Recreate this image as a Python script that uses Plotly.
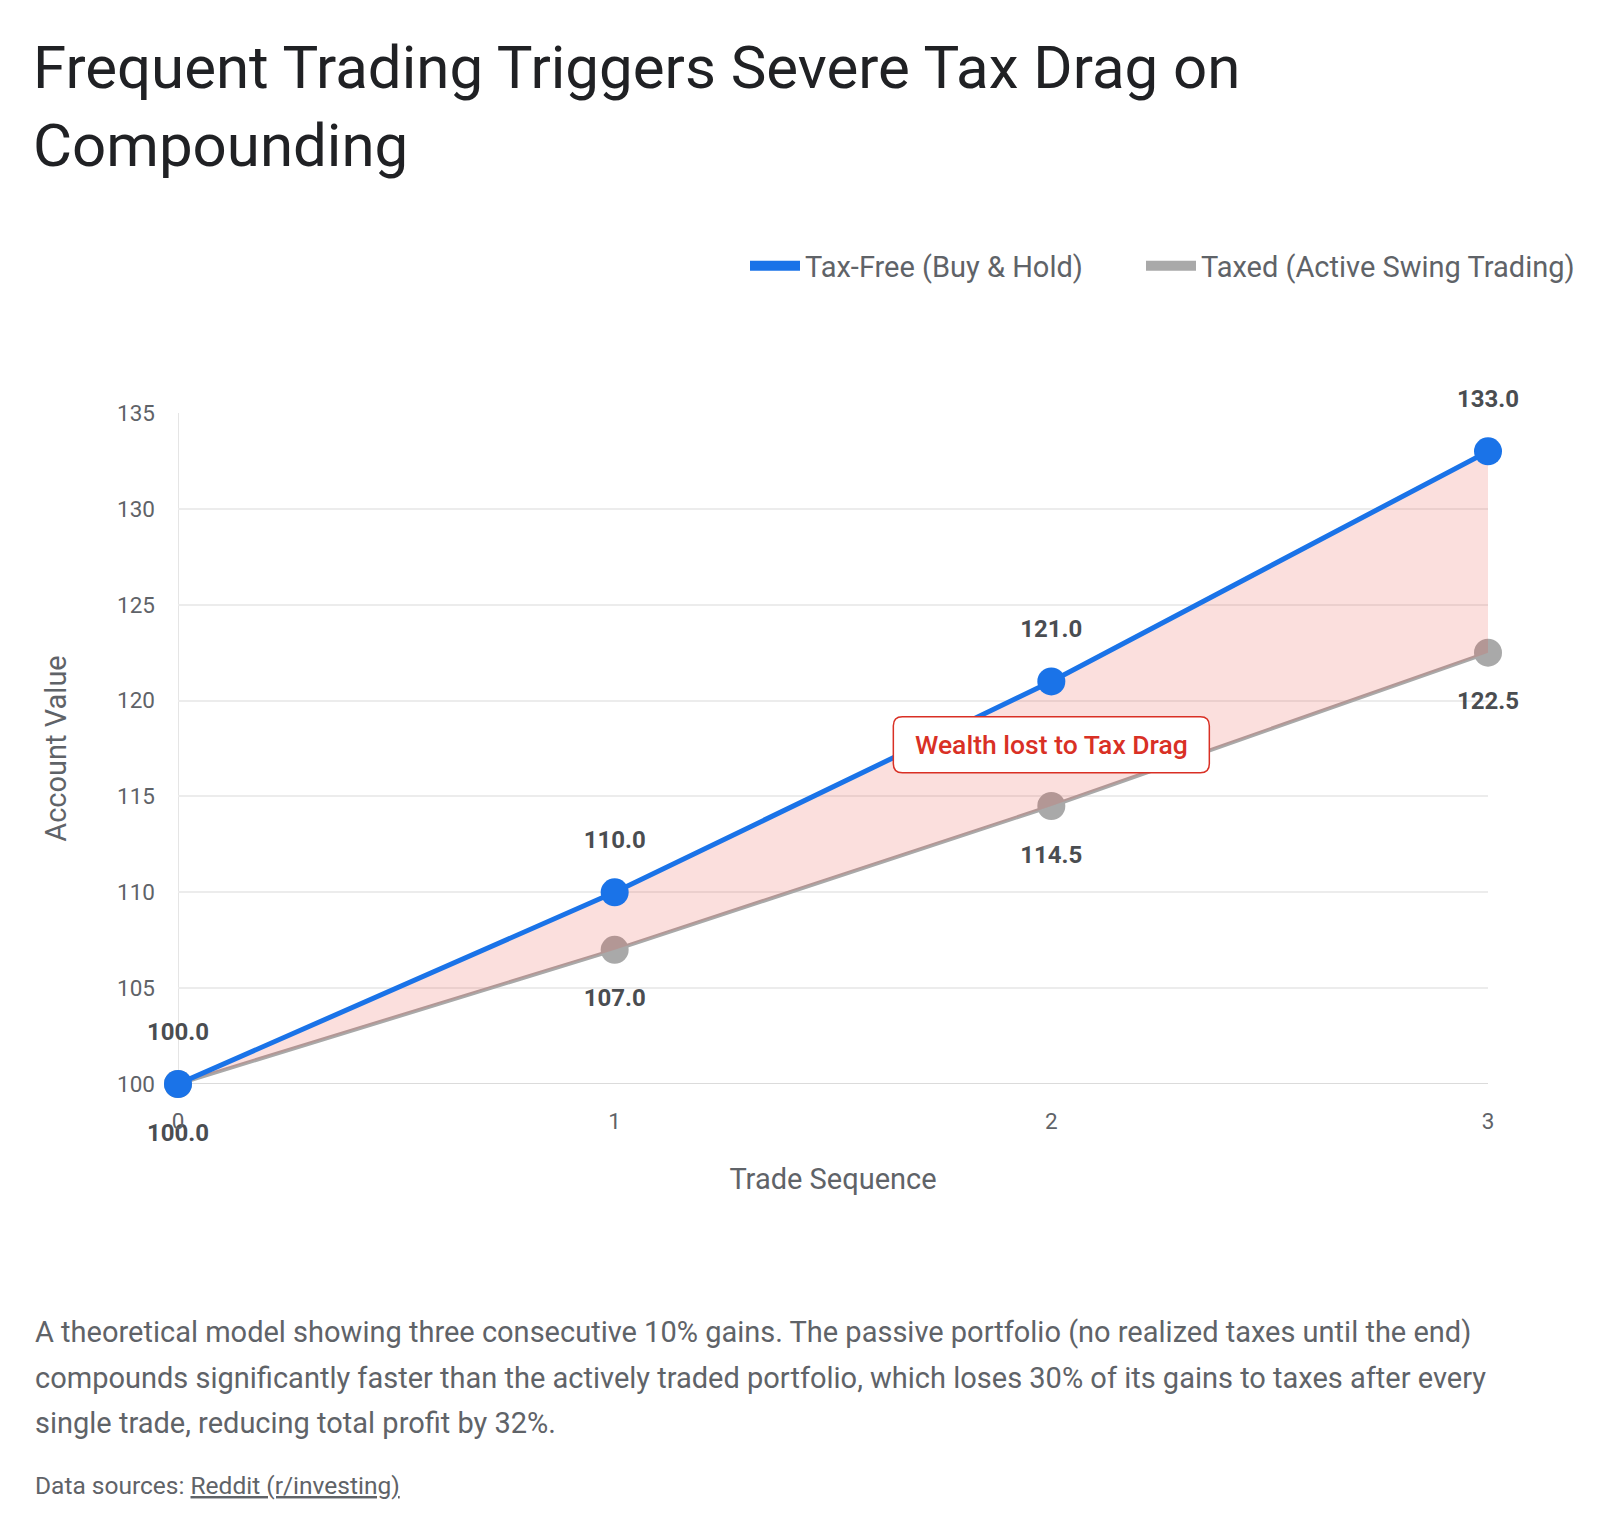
import plotly.graph_objects as go

trades = [0, 1, 2, 3]
tax_free = [100.0, 110.0, 121.0, 133.0]
taxed = [100.0, 107.0, 114.5, 122.5]
series_names = ["Tax-Free (Buy & Hold)", "Taxed (Active Swing Trading)"]
y_ticks = [100, 105, 110, 115, 120, 125, 130, 135]
note_text = "Wealth lost to Tax Drag"
note_x, note_y = 2.0, 117.7

BLUE = "#1a73e8"
GRAY = "#a9a9a9"
RED = "#d93025"
FONT = "Roboto"
LABEL = "#4a4d51"
FOOT = "#5f6368"

L, R, T, B = 178, 1488, 413, 1084
W = R - L
H = B - T
X0, X1 = 0, 3
Y0, Y1 = 100, 135

fig = go.Figure()

# taxed line (drawn first, below fill)
fig.add_trace(go.Scatter(
    x=trades, y=taxed, mode="lines+markers",
    line=dict(color=GRAY, width=4), marker=dict(color=GRAY, size=28),
    showlegend=False, hoverinfo="skip", cliponaxis=False))

# fill between
fig.add_trace(go.Scatter(
    x=trades + trades[::-1], y=tax_free + taxed[::-1],
    fill="toself", fillcolor="rgba(234,67,53,0.17)",
    line=dict(width=0), mode="lines", showlegend=False, hoverinfo="skip"))

# tax-free line
fig.add_trace(go.Scatter(
    x=trades, y=tax_free, mode="lines+markers",
    line=dict(color=BLUE, width=5), marker=dict(color=BLUE, size=28),
    showlegend=False, hoverinfo="skip", cliponaxis=False))

# value labels (transparent markers set the label offset)
fig.add_trace(go.Scatter(
    x=trades, y=taxed, mode="markers+text",
    marker=dict(color="rgba(0,0,0,0)", size=60),
    text=[f"{v:.1f}" for v in taxed], textposition="bottom center",
    textfont=dict(family=FONT, size=24, color=LABEL, weight="bold"),
    showlegend=False, hoverinfo="skip", cliponaxis=False))
fig.add_trace(go.Scatter(
    x=trades, y=tax_free, mode="markers+text",
    marker=dict(color="rgba(0,0,0,0)", size=60),
    text=[f"{v:.1f}" for v in tax_free], textposition="top center",
    textfont=dict(family=FONT, size=24, color=LABEL, weight="bold"),
    showlegend=False, hoverinfo="skip", cliponaxis=False))

# legend-only traces (one legend each, for exact placement)
fig.add_trace(go.Scatter(x=[None], y=[None], mode="lines", name=series_names[0],
                         line=dict(color=BLUE, width=10), legend="legend"))
fig.add_trace(go.Scatter(x=[None], y=[None], mode="lines", name=series_names[1],
                         line=dict(color=GRAY, width=10), legend="legend2"))


def px(x):
    return (x - L) / W


def py(y):
    return (B - y) / H


# rounded box around the note (pixel sizes converted to data units)
dx = (X1 - X0) / W
dy = (Y1 - Y0) / H
hw, hh, rr = 158, 28, 9
xl, xr = note_x - hw * dx, note_x + hw * dx
yb, yt = note_y - hh * dy, note_y + hh * dy
rx, ry = rr * dx, rr * dy
box_path = (
    f"M {xl + rx},{yt} L {xr - rx},{yt} Q {xr},{yt} {xr},{yt - ry} "
    f"L {xr},{yb + ry} Q {xr},{yb} {xr - rx},{yb} "
    f"L {xl + rx},{yb} Q {xl},{yb} {xl},{yb + ry} "
    f"L {xl},{yt - ry} Q {xl},{yt} {xl + rx},{yt} Z"
)

annotations = [
    dict(x=note_x, y=note_y, xref="x", yref="y", text=note_text,
         showarrow=False, font=dict(family=FONT, size=26.5, color=RED, weight=500)),
    dict(x=px(33), y=py(1332), xref="paper", yref="paper", xanchor="left", yanchor="middle",
         text="A theoretical model showing three consecutive 10% gains. The passive portfolio (no realized taxes until the end)",
         showarrow=False, font=dict(family=FONT, size=29, color=FOOT)),
    dict(x=px(33), y=py(1378), xref="paper", yref="paper", xanchor="left", yanchor="middle",
         text="compounds significantly faster than the actively traded portfolio, which loses 30% of its gains to taxes after every",
         showarrow=False, font=dict(family=FONT, size=29, color=FOOT)),
    dict(x=px(33), y=py(1423), xref="paper", yref="paper", xanchor="left", yanchor="middle",
         text="single trade, reducing total profit by 32%.",
         showarrow=False, font=dict(family=FONT, size=29, color=FOOT)),
    dict(x=px(33), y=py(1485), xref="paper", yref="paper", xanchor="left", yanchor="middle",
         text="Data sources: <u>Reddit (r/investing)</u>",
         showarrow=False, font=dict(family=FONT, size=24.5, color=FOOT)),
]

legend_common = dict(orientation="h", xref="container", xanchor="left",
                     y=1 - 266 / 1534, yref="container", yanchor="middle",
                     font=dict(family=FONT, size=29, color=FOOT),
                     itemwidth=50, bgcolor="rgba(0,0,0,0)")

fig.update_layout(
    width=1600, height=1534,
    margin=dict(l=L, r=1600 - R, t=T, b=1534 - B, pad=0),
    paper_bgcolor="white", plot_bgcolor="white",
    font=dict(family=FONT, color=FOOT),
    title=dict(text="Frequent Trading Triggers Severe Tax Drag on<br>Compounding",
               x=33 / 1600, xanchor="left", y=1 - 88 / 1534, yanchor="middle",
               font=dict(family=FONT, size=60, color="#202124")),
    legend=dict(x=745 / 1600, **legend_common),
    legend2=dict(x=1141 / 1600, **legend_common),
    xaxis=dict(range=[X0, X1], tickvals=trades, ticktext=[str(t) for t in trades],
               showgrid=False, showline=False, zeroline=False, ticks="",
               tickfont=dict(family=FONT, size=22.5, color=FOOT), ticklabelstandoff=21,
               title=dict(text="Trade Sequence", font=dict(family=FONT, size=29, color=FOOT),
                          standoff=36)),
    yaxis=dict(range=[Y0, Y1], tickvals=y_ticks, showgrid=True, gridcolor="#ececec",
               gridwidth=1.5, zeroline=False, showline=False, ticks="",
               tickfont=dict(family=FONT, size=22.5, color=FOOT), ticklabelstandoff=22,
               title=dict(text="Account Value", font=dict(family=FONT, size=29, color=FOOT),
                          standoff=41)),
    annotations=annotations,
    shapes=[
        dict(type="line", xref="x", yref="paper", x0=X0, x1=X0, y0=0, y1=1,
             line=dict(color="#dddddd", width=1.5), layer="below"),
        dict(type="line", xref="paper", yref="y", x0=0, x1=1, y0=Y0, y1=Y0,
             line=dict(color="#cfcfcf", width=1.5), layer="below"),
        dict(type="path", xref="x", yref="y", path=box_path,
             fillcolor="white", line=dict(color=RED, width=1.5), layer="above"),
    ],
)

fig.write_html("out.html")
